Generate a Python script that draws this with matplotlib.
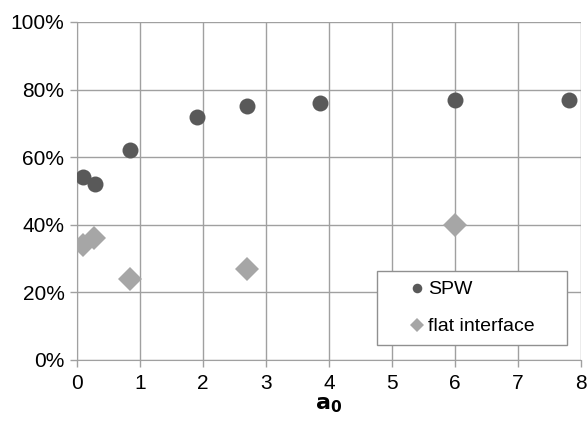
import numpy as np
from matplotlib import pyplot as plt
from matplotlib.ticker import PercentFormatter

plt.rcParams['font.family'] = ['Liberation Sans', 'DejaVu Sans']

spw_x = [0.1, 0.28, 0.85, 1.9, 2.7, 3.85, 6.0, 7.8]
spw_y = [54, 52, 62, 72, 75, 76, 77, 77]
flat_x = [0.1, 0.27, 0.85, 2.7, 6.0]
flat_y = [34, 36, 24, 27, 40]

fig = plt.figure(figsize=(5.87, 4.22), dpi=100)
ax = fig.add_axes([0.131, 0.147, 0.859, 0.801])

ax.plot(spw_x, spw_y, "o", color="#595959", ms=11.5, mew=0, label="SPW", zorder=3)
ax.plot(flat_x, flat_y, "D", color="#a6a6a6", ms=12, mew=0, label="flat interface", zorder=3)

ax.set_xlim(0, 8)
ax.set_ylim(0, 100)
ax.set_xticks(range(0, 9))
ax.set_yticks(range(0, 101, 20))
ax.yaxis.set_major_formatter(PercentFormatter(decimals=0))
ax.grid(True, color="#a0a0a0", lw=1)
ax.set_axisbelow(True)
for s in ["top", "right"]:
    ax.spines[s].set_visible(False)
for s in ["left", "bottom"]:
    ax.spines[s].set_color("#a0a0a0")
ax.tick_params(axis="both", labelsize=15, color="#a0a0a0", length=5, width=1,
               direction="out")
ax.tick_params(axis="x", pad=5)
ax.tick_params(axis="y", pad=4)
ax.set_xlabel(r"$\mathbf{a_0}$", fontsize=16, labelpad=1)

leg = ax.legend(loc="lower left", bbox_to_anchor=(0.595, 0.044, 0.377, 0.2),
                mode="expand", fontsize=14,
                markerscale=0.6, handletextpad=-0.96, handlelength=3.1,
                labelspacing=1.0, borderpad=0.5, borderaxespad=0,
                fancybox=False, edgecolor="#909090", framealpha=1)
leg.get_frame().set_linewidth(1)

plt.savefig("out.png", dpi=100)
